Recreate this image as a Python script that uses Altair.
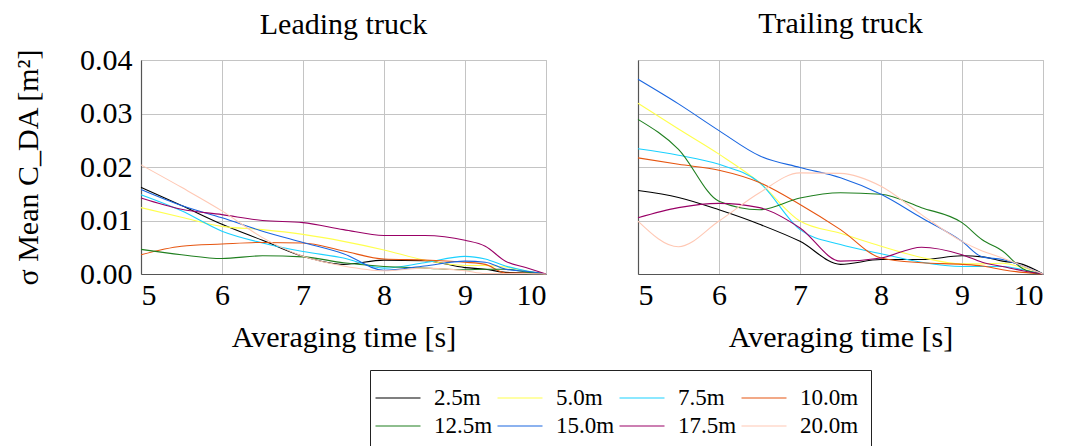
import altair as alt
import pandas as pd

x_vals = [5, 5.5, 6, 6.5, 7, 7.5, 8, 8.5, 9, 9.25, 9.5, 9.75, 10]
series = ["2.5m", "5.0m", "7.5m", "10.0m", "12.5m", "15.0m", "17.5m", "20.0m"]
colors = ["#000000", "#ffff4d", "#1ad1ff", "#e65510", "#1f7f1f", "#1a66e0", "#990066", "#ffc8b4"]

leading = {
    "2.5m":  [0.0162, 0.0128, 0.0093, 0.0063, 0.0033, 0.0018, 0.0026, 0.0025, 0.0012, 0.0009, 0.0003, 0.0002, 0.0],
    "5.0m":  [0.0124, 0.0106, 0.0089, 0.0083, 0.0074, 0.0061, 0.0045, 0.0026, 0.0016, 0.0016, 0.0013, 0.0006, 0.0],
    "7.5m":  [0.0148, 0.0118, 0.0080, 0.0058, 0.0042, 0.0030, 0.0011, 0.0021, 0.0033, 0.0028, 0.0015, 0.0006, 0.0],
    "10.0m": [0.0036, 0.0052, 0.0056, 0.0059, 0.0058, 0.0043, 0.0028, 0.0026, 0.0022, 0.0018, 0.0002, 0.0002, 0.0],
    "12.5m": [0.0046, 0.0036, 0.0029, 0.0034, 0.0032, 0.0021, 0.0014, 0.0011, 0.0008, 0.0009, 0.0009, 0.0004, 0.0],
    "15.0m": [0.0158, 0.0128, 0.0105, 0.0080, 0.0059, 0.0038, 0.0007, 0.0015, 0.0024, 0.0022, 0.0009, 0.0005, 0.0],
    "17.5m": [0.0142, 0.0121, 0.0111, 0.0100, 0.0096, 0.0083, 0.0072, 0.0072, 0.0063, 0.0052, 0.0024, 0.0012, 0.0],
    "20.0m": [0.0204, 0.0162, 0.0118, 0.0068, 0.0033, 0.0015, 0.0006, 0.0011, 0.0006, 0.0001, 0.0001, 0.0001, 0.0],
}

trailing = {
    "2.5m":  [0.0156, 0.0143, 0.0120, 0.0093, 0.0061, 0.0018, 0.0027, 0.0027, 0.0034, 0.0032, 0.0024, 0.0018, 0.0],
    "5.0m":  [0.0319, 0.0271, 0.0224, 0.0171, 0.0099, 0.0076, 0.0052, 0.0031, 0.0019, 0.0019, 0.0020, 0.0012, 0.0],
    "7.5m":  [0.0234, 0.0222, 0.0205, 0.0171, 0.0083, 0.0055, 0.0038, 0.0022, 0.0014, 0.0014, 0.0014, 0.0008, 0.0],
    "10.0m": [0.0217, 0.0205, 0.0194, 0.0171, 0.0130, 0.0083, 0.0030, 0.0021, 0.0018, 0.0015, 0.0008, 0.0003, 0.0],
    "12.5m": [0.0289, 0.0233, 0.0136, 0.0120, 0.0142, 0.0152, 0.0149, 0.0124, 0.0096, 0.0064, 0.0043, 0.0010, 0.0],
    "15.0m": [0.0364, 0.0318, 0.0268, 0.0221, 0.0199, 0.0180, 0.0149, 0.0105, 0.0061, 0.0032, 0.0027, 0.0015, 0.0],
    "17.5m": [0.0105, 0.0124, 0.0132, 0.0124, 0.0086, 0.0024, 0.0030, 0.0050, 0.0036, 0.0022, 0.0014, 0.0006, 0.0],
    "20.0m": [0.0099, 0.0051, 0.0099, 0.0152, 0.0189, 0.0188, 0.0164, 0.0111, 0.0061, 0.0043, 0.0030, 0.0015, 0.0],
}

FONT = "Liberation Serif"
FS = 30


def make_df(d):
    rows = []
    for s in series:
        for xv, yv in zip(x_vals, d[s]):
            rows.append({"series": s, "x": xv, "y": yv, "order": series.index(s)})
    return pd.DataFrame(rows)


color_scale = alt.Scale(domain=series, range=colors)

legend = alt.Legend(
    title=None,
    orient="none",
    legendX=229,
    legendY=310,
    direction="horizontal",
    columns=4,
    symbolType="M-1.5,0H1.5",
    symbolSize=900,
    symbolStrokeWidth=1.2,
    symbolFillColor="transparent",
    labelFont=FONT,
    labelFontSize=23,
    labelColor="black",
    strokeColor="#222222",
    padding=12,
    columnPadding=2,
    rowPadding=-4,
    gridAlign="all",
    labelOffset=20,
    labelLimit=200,
)

common_axis = dict(
    labelFont=FONT, titleFont=FONT, labelFontSize=FS, titleFontSize=FS,
    titleFontWeight="normal", labelColor="black", titleColor="black",
    gridColor="#c4c4c4", domainColor="#555555", domainWidth=1.2, ticks=False,
)


def panel(d, title, show_y, title_offset):
    yaxis = alt.Axis(
        values=[0, 0.01, 0.02, 0.03, 0.04],
        format=".2f",
        labels=show_y,
        title="σ Mean C_DA [m²]" if show_y else None,
        labelPadding=9,
        titlePadding=36,
        **common_axis,
    )
    xaxis = alt.Axis(
        values=[5, 6, 7, 8, 9, 10], title="Averaging time [s]",
        labelPadding=6, titlePadding=12,
        **common_axis,
    )
    return (
        alt.Chart(make_df(d))
        .mark_line(strokeWidth=1.1, interpolate="monotone")
        .encode(
            x=alt.X("x:Q", scale=alt.Scale(domain=[5, 10], nice=False), axis=xaxis),
            y=alt.Y("y:Q", scale=alt.Scale(domain=[0, 0.04], nice=False), axis=yaxis),
            color=alt.Color("series:N", scale=color_scale, legend=legend, sort=series),
            detail="series:N",
            order="order:Q",
        )
        .properties(
            width=405,
            height=214,
            title=alt.Title(title, font=FONT, fontSize=FS, fontWeight="normal", color="black",
                            offset=title_offset),
        )
    )


chart = (
    alt.hconcat(
        panel(leading, "Leading truck", True, 5),
        panel(trailing, "Trailing truck", False, 21),
        spacing=86,
    )
    .properties(padding={"left": 5, "top": 0, "right": 5, "bottom": 0})
    .configure_view(stroke="#b8b8b8", strokeWidth=1)
    .configure_axis(gridColor="#c4c4c4", gridWidth=1)
)

chart.save("out.html", embed_options={"renderer": "svg", "actions": False})
